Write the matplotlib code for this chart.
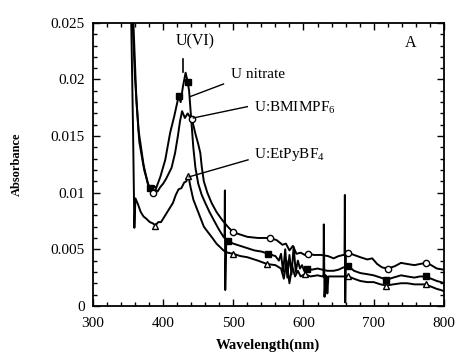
import matplotlib
matplotlib.use("Agg")
import matplotlib.pyplot as plt
from matplotlib.ticker import MultipleLocator, FuncFormatter

plt.rcParams['font.family'] = ['Liberation Serif', 'DejaVu Serif']
plt.rcParams['mathtext.fontset'] = 'custom'
plt.rcParams['mathtext.rm'] = 'Liberation Serif'

# U nitrate spectrum (filled squares)
nitrate_wl = [350, 355, 360, 365, 372, 378, 381, 384, 387, 390, 396, 403, 410, 416,
              422, 425, 428, 432, 435, 437, 440, 443, 446, 450, 455, 460, 466, 472,
              479, 486, 487.5, 488, 488.5, 490, 493, 500, 510, 520, 530, 540, 550,
              560, 565, 568, 571, 574, 577, 580, 583, 586, 589, 592, 595, 598, 601,
              605, 612, 620, 627, 634, 643, 650, 657, 664, 672, 681, 691, 700, 710,
              718, 728, 739, 748, 758, 766, 774, 782, 790, 796, 800]
nitrate_abs = [0.045, 0.027, 0.020, 0.0155, 0.0125, 0.0108, 0.0104, 0.0101, 0.0106,
               0.0104, 0.0114, 0.0129, 0.0153, 0.0168, 0.0185, 0.0180, 0.0193, 0.0206,
               0.0198, 0.0190, 0.0165, 0.0140, 0.0122, 0.0108, 0.0098, 0.0091, 0.0083,
               0.0076, 0.0068, 0.0061, 0.0060, 0.0102, 0.0014, 0.0058, 0.0057, 0.0055,
               0.0053, 0.0051, 0.0049, 0.0048, 0.0046, 0.0044, 0.0040, 0.0046, 0.0030,
               0.0050, 0.0025, 0.0045, 0.0028, 0.0052, 0.0030, 0.0040, 0.0033, 0.0036,
               0.0031, 0.0033, 0.0032, 0.0033, 0.0032, 0.0031, 0.0031, 0.0032, 0.0034,
               0.0035, 0.0031, 0.0029, 0.0028, 0.0027, 0.0025, 0.0023, 0.0025, 0.0027,
               0.0026, 0.0025, 0.0026, 0.0026, 0.0024, 0.0022, 0.0021, 0.0020]
nitrate_marks = [381, 422, 435, 493, 550, 605, 664, 718, 774]

# U:BMIMPF6 spectrum (open circles)
bmim_wl = [350, 357, 362, 366, 373, 380, 383, 386, 389, 392, 396, 400, 404, 408,
           412, 417, 421, 424, 427, 431, 435, 438, 441, 446, 450, 453, 455, 458,
           463, 469, 476, 484, 492, 500, 510, 520, 535, 553, 562, 570, 575, 580,
           585, 590, 596, 602, 607, 615, 625, 635, 643, 650, 657, 658.5, 659,
           659.5, 660.5, 664, 672, 681, 691, 698, 705, 712, 720, 730, 739, 748,
           758, 766, 775, 782, 790, 800]
bmim_abs = [0.045, 0.026, 0.018, 0.0145, 0.0120, 0.0105, 0.0102, 0.0100, 0.0103,
            0.0101, 0.0105, 0.0108, 0.0112, 0.0117, 0.0122, 0.0135, 0.0150, 0.0163,
            0.0172, 0.0166, 0.0170, 0.0167, 0.0165, 0.0152, 0.0143, 0.0135, 0.0123,
            0.0110, 0.0100, 0.0091, 0.0083, 0.0076, 0.0070, 0.0065, 0.0063, 0.0061,
            0.0060, 0.0060, 0.0058, 0.0054, 0.0055, 0.0049, 0.0053, 0.0046, 0.0047,
            0.0045, 0.0046, 0.0045, 0.0045, 0.0044, 0.0042, 0.0044, 0.0045, 0.0045,
            0.0098, 0.0003, 0.0046, 0.0047, 0.0045, 0.0043, 0.0041, 0.0042, 0.0037,
            0.0034, 0.0033, 0.0035, 0.0038, 0.0037, 0.0036, 0.0037, 0.0038, 0.0036,
            0.0033, 0.0032]
bmim_marks = [386, 441, 500, 553, 607, 664, 720, 775]

# U:EtPyBF4 spectrum (open triangles)
etpy_wl = [350, 354, 357, 359, 360.5, 364, 368, 372, 376, 381, 385, 389, 393, 397,
           401, 405, 410, 414, 418, 422, 426, 430, 433, 436, 439, 443, 448, 453,
           458, 464, 469, 476, 481, 486, 492, 500, 510, 520, 535, 548, 560, 568,
           572, 576, 580, 584, 588, 592, 596, 602, 610, 620, 627, 628.5, 629, 630,
           631.5, 633, 634, 635.5, 643, 652, 664, 672, 681, 691, 700, 710, 718,
           728, 739, 748, 758, 766, 774, 782, 790, 796, 800]
etpy_abs = [0.045, 0.027, 0.016, 0.0069, 0.0095, 0.0090, 0.0083, 0.0079, 0.0077,
            0.0074, 0.0073, 0.0071, 0.0074, 0.0074, 0.0078, 0.0082, 0.0087, 0.0091,
            0.0098, 0.0103, 0.0104, 0.0109, 0.0110, 0.0115, 0.0105, 0.0094, 0.0086,
            0.0078, 0.0070, 0.0065, 0.0061, 0.0055, 0.0052, 0.0049, 0.0047, 0.0046,
            0.0044, 0.0043, 0.0040, 0.0037, 0.0036, 0.0033, 0.0024, 0.0040, 0.0020,
            0.0035, 0.0026, 0.0031, 0.0026, 0.0028, 0.0026, 0.0027, 0.0026, 0.0026,
            0.0072, 0.0008, 0.0027, 0.0026, 0.0011, 0.0026, 0.0026, 0.0026, 0.0026,
            0.0024, 0.0022, 0.0021, 0.0021, 0.0019, 0.0018, 0.0019, 0.0020, 0.0020,
            0.0019, 0.0019, 0.0019, 0.0017, 0.0015, 0.0014, 0.0013]
etpy_marks = [389, 436, 500, 548, 602, 664, 718, 774]

fig = plt.figure(figsize=(4.58, 3.52), dpi=100)
ax = fig.add_axes([0.203, 0.131, 0.766, 0.804])

series = [
    (nitrate_wl, nitrate_abs, nitrate_marks, dict(marker='s', mfc='black')),
    (bmim_wl, bmim_abs, bmim_marks, dict(marker='o', mfc='white')),
    (etpy_wl, etpy_abs, etpy_marks, dict(marker='^', mfc='white')),
]
for wl, ab, marks, style in series:
    idx = [wl.index(m) for m in marks]
    ax.plot(wl, ab, color='black', lw=1.4, markevery=idx, ms=4.5,
            mec='black', mew=1.0, **style)

ax.set_xlim(300, 800)
ax.set_ylim(0, 0.025)
ax.xaxis.set_major_locator(MultipleLocator(100))
ax.xaxis.set_minor_locator(MultipleLocator(20))
ax.yaxis.set_major_locator(MultipleLocator(0.005))
ax.yaxis.set_minor_locator(MultipleLocator(0.001))
ax.yaxis.set_major_formatter(FuncFormatter(lambda v, p: f"{v:g}"))
ax.tick_params(which='both', direction='in', top=True, right=True,
               labelsize=11, width=1.0)
ax.tick_params(axis='x', which='major', pad=8)
ax.tick_params(axis='y', which='major', pad=6)
ax.tick_params(which='major', length=5)
ax.tick_params(which='minor', length=3)
for s in ax.spines.values():
    s.set_linewidth(1.3)

ax.set_xlabel('Wavelength(nm)', fontsize=10.5, fontweight='bold', labelpad=6)
ax.set_ylabel('Absorbance', fontsize=9, fontweight='bold', labelpad=20)

# peak label and marker
ax.text(446, 0.0234, 'U(VI)', fontsize=11.5, ha='center', va='center')
ax.plot([429, 429], [0.0207, 0.0218], color='black', lw=1.2)
ax.text(753, 0.0232, 'A', fontsize=11.5, ha='center', va='center')

# series labels with leader lines
ax.plot([439, 486], [0.0185, 0.0196], color='black', lw=1.0)
ax.text(497, 0.0204, 'U nitrate', fontsize=11, ha='left', va='center')
ax.plot([443, 520], [0.0166, 0.0176], color='black', lw=1.0)
ax.text(529, 0.0175, r'U:BMIMPF$_{6}$', fontsize=11, ha='left', va='center')
ax.plot([437, 521], [0.0114, 0.0129], color='black', lw=1.0)
ax.text(529, 0.0134, r'U:EtPyBF$_{4}$', fontsize=11, ha='left', va='center')

fig.savefig('out.png', dpi=100)
